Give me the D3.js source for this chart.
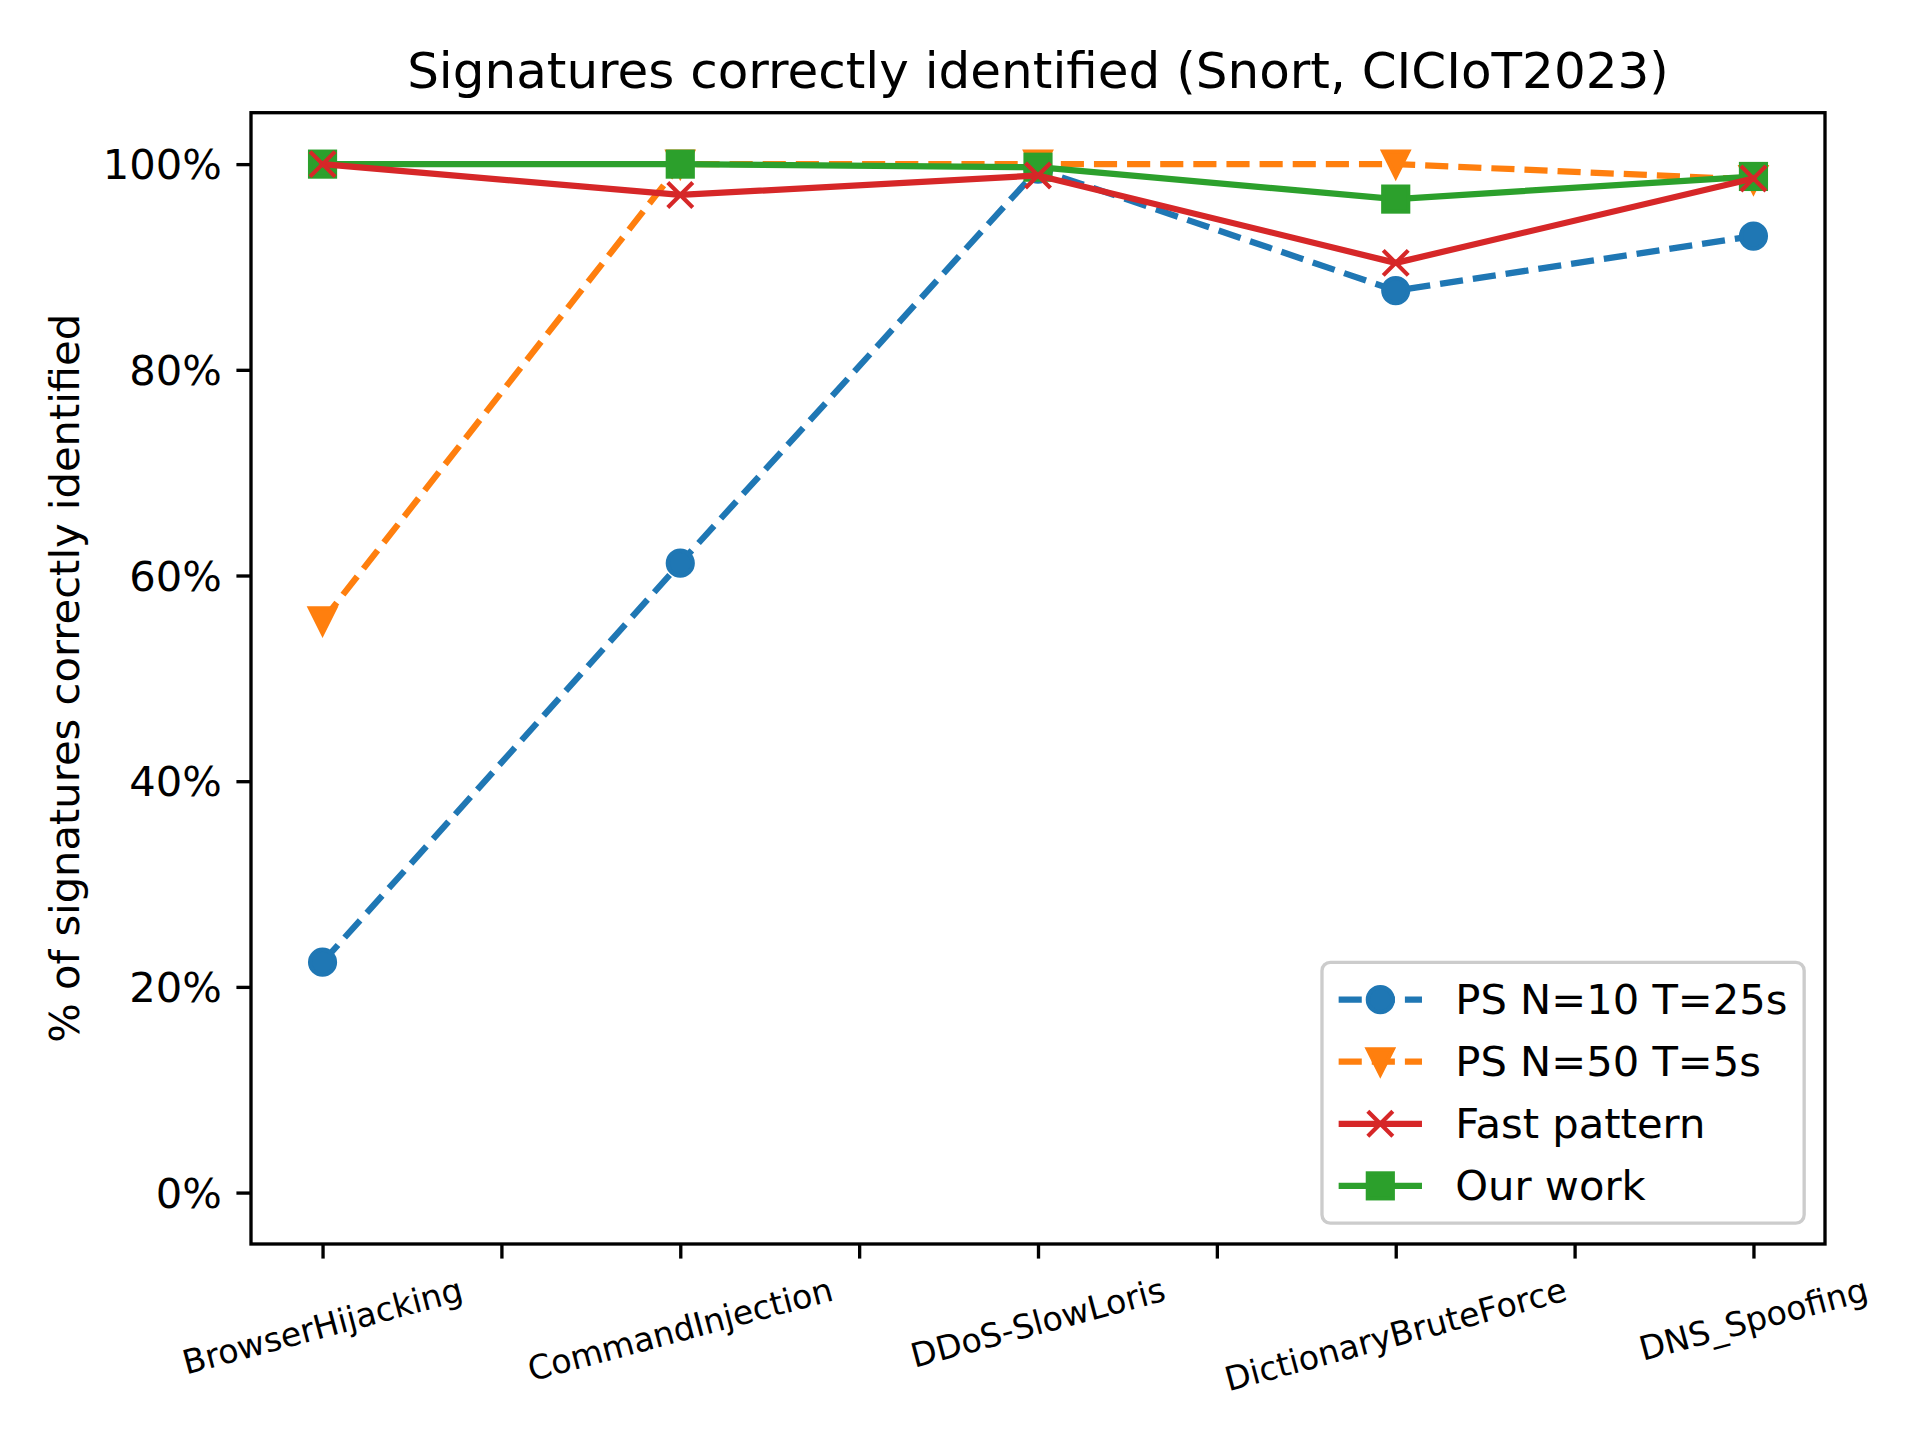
<!DOCTYPE html>
<html><head><meta charset="utf-8">
<script src="https://cdn.jsdelivr.net/npm/d3@7"></script>
<style>body{margin:0;background:#fff}svg{display:block}text{font-family:"DejaVu Sans",sans-serif;fill:#000}</style>
</head><body><svg id="c" width="1920" height="1440"></svg>
<script>
const categories = ["BrowserHijacking","CommandInjection","DDoS-SlowLoris","DictionaryBruteForce","DNS_Spoofing"];
const ps10 = [22.4, 61.2, 99.5, 87.7, 93.0];
const ps50 = [55.6, 100, 100, 100, 98.5];
const fastPattern = [100, 97.0, 98.9, 90.4, 98.6];
const ourWork = [100, 100, 99.7, 96.6, 98.8];
const seriesNames = ["PS N=10 T=25s","PS N=50 T=5s","Fast pattern","Our work"];
const yTicks = [0,20,40,60,80,100];
const xTickPositions = [0,0.5,1,1.5,2,2.5,3,3.5,4];
const title = "Signatures correctly identified (Snort, CICIoT2023)";
const yLabel = "% of signatures correctly identified";

const pt = 300/72;
const L = 251, R = 1825, T = 112.7, B = 1244;
const svg = d3.select("#c");
const x = d3.scaleLinear().domain([-0.2, 4.2]).range([L, R]);
const y = d3.scaleLinear().domain([-5, 105]).range([B, T]);
const lw = 1.5*pt, ms = 6*pt, mew = 1*pt;

const series = [
  {name: seriesNames[0], values: ps10, color: "#1f77b4", dash: true, marker: "o", z: 0},
  {name: seriesNames[1], values: ps50, color: "#ff7f0e", dash: true, marker: "v", z: 1},
  {name: seriesNames[2], values: fastPattern, color: "#d62728", dash: false, marker: "x", z: 3},
  {name: seriesNames[3], values: ourWork, color: "#2ca02c", dash: false, marker: "s", z: 2}
];
const dashArr = `${3.7*lw} ${1.6*lw}`;

function drawMarker(g, type, cx, cy, color) {
  const h = ms/2;
  if (type === "o") {
    g.append("circle").attr("cx", cx).attr("cy", cy).attr("r", h)
      .attr("fill", color).attr("stroke", color).attr("stroke-width", mew);
  } else if (type === "v") {
    g.append("path").attr("d", `M${cx-h},${cy-h}L${cx+h},${cy-h}L${cx},${cy+h}Z`)
      .attr("fill", color).attr("stroke", color).attr("stroke-width", mew).attr("stroke-linejoin","miter");
  } else if (type === "s") {
    g.append("rect").attr("x", cx-h).attr("y", cy-h).attr("width", ms).attr("height", ms)
      .attr("fill", color).attr("stroke", color).attr("stroke-width", mew);
  } else if (type === "x") {
    g.append("path").attr("d", `M${cx-h},${cy-h}L${cx+h},${cy+h}M${cx-h},${cy+h}L${cx+h},${cy-h}`)
      .attr("fill", "none").attr("stroke", color).attr("stroke-width", mew).attr("stroke-linecap","butt");
  }
}

// lines
const line = d3.line().x((d,i)=>x(i)).y(d=>y(d));
const plotG = svg.append("g");
series.slice().sort((a,b)=>a.z-b.z).forEach(s => {
  const g = plotG.append("g");
  g.append("path").datum(s.values).attr("d", line).attr("fill","none")
    .attr("stroke", s.color).attr("stroke-width", lw)
    .attr("stroke-dasharray", s.dash ? dashArr : null)
    .attr("stroke-linejoin","round").attr("stroke-linecap", s.dash ? "butt" : "square");
  s.values.forEach((v,i) => drawMarker(g, s.marker, x(i), y(v), s.color));
});

// axes
const spine = 0.8*pt, tickLen = 3.5*pt, tickPad = 3.5*pt;
const yAxis = svg.append("g").attr("transform", `translate(${L},0)`)
  .call(d3.axisLeft(y).tickValues(yTicks).tickFormat(d => d + "%").tickSize(tickLen).tickPadding(tickPad));
yAxis.select(".domain").remove();
yAxis.selectAll(".tick line").attr("stroke-width", spine);
yAxis.selectAll(".tick text").attr("font-size", 10*pt).attr("font-family","DejaVu Sans").attr("dy","0.35em");

const xAxis = svg.append("g").attr("transform", `translate(0,${B})`)
  .call(d3.axisBottom(x).tickValues(xTickPositions).tickFormat("").tickSize(tickLen));
xAxis.select(".domain").remove();
xAxis.selectAll(".tick line").attr("stroke-width", spine);

// rotated category labels
const fsX = 8*pt, ang = 15*Math.PI/180;
const labelTop = B + tickLen + tickPad - 3;
categories.forEach((c,i) => {
  const t = svg.append("text").attr("font-size", fsX).attr("text-anchor","middle")
    .attr("dominant-baseline","central").text(c);
  const len = t.node().getComputedTextLength();
  const hgt = fsX*1.164;
  const bh = len*Math.sin(ang) + hgt*Math.cos(ang);
  const cy = labelTop + bh/2;
  t.attr("x", x(i)).attr("y", cy).attr("transform", `rotate(-15,${x(i)},${cy})`);
});

// frame
svg.append("rect").attr("x", L).attr("y", T).attr("width", R-L).attr("height", B-T)
  .attr("fill","none").attr("stroke","#000").attr("stroke-width", spine);

// title
svg.append("text").attr("x", (L+R)/2).attr("y", T - 6*pt).attr("text-anchor","middle")
  .attr("font-size", 12*pt).text(title);
// y label
svg.append("text").attr("transform", `translate(64,${(T+B)/2}) rotate(-90)`)
  .attr("text-anchor","middle").attr("dominant-baseline","central")
  .attr("font-size", 10*pt).text(yLabel);

// legend
const fsL = 10*pt;
const bp = 0.4*fsL, ls = 0.5*fsL, hl = 2*fsL, htp = 0.8*fsL, bap = 0.5*fsL;
const rowH = 0.99*fsL;
const legG = svg.append("g");
const frame = legG.append("rect");
const texts = [];
let maxW = 0;
series.forEach(s => {
  const t = legG.append("text").attr("font-size", fsL).attr("dominant-baseline","central").text(s.name);
  maxW = Math.max(maxW, t.node().getComputedTextLength());
  texts.push(t);
});
const boxW = 2*bp + hl + htp + maxW;
const boxH = 2*bp + 4*rowH + 3*ls;
const bx = R - bap - boxW, by = B - bap - boxH;
frame.attr("x", bx).attr("y", by).attr("width", boxW).attr("height", boxH)
  .attr("rx", 0.2*fsL).attr("fill","#fff").attr("fill-opacity",0.8)
  .attr("stroke","#cccccc").attr("stroke-width", spine);
series.forEach((s,i) => {
  const cy = by + bp + rowH/2 + i*(rowH+ls);
  const x0 = bx + bp, x1 = x0 + hl;
  legG.append("line").attr("x1", x0).attr("x2", x1).attr("y1", cy).attr("y2", cy)
    .attr("stroke", s.color).attr("stroke-width", lw)
    .attr("stroke-dasharray", s.dash ? dashArr : null);
  drawMarker(legG, s.marker, (x0+x1)/2, cy, s.color);
  texts[i].attr("x", x1 + htp).attr("y", cy);
});
</script></body></html>
